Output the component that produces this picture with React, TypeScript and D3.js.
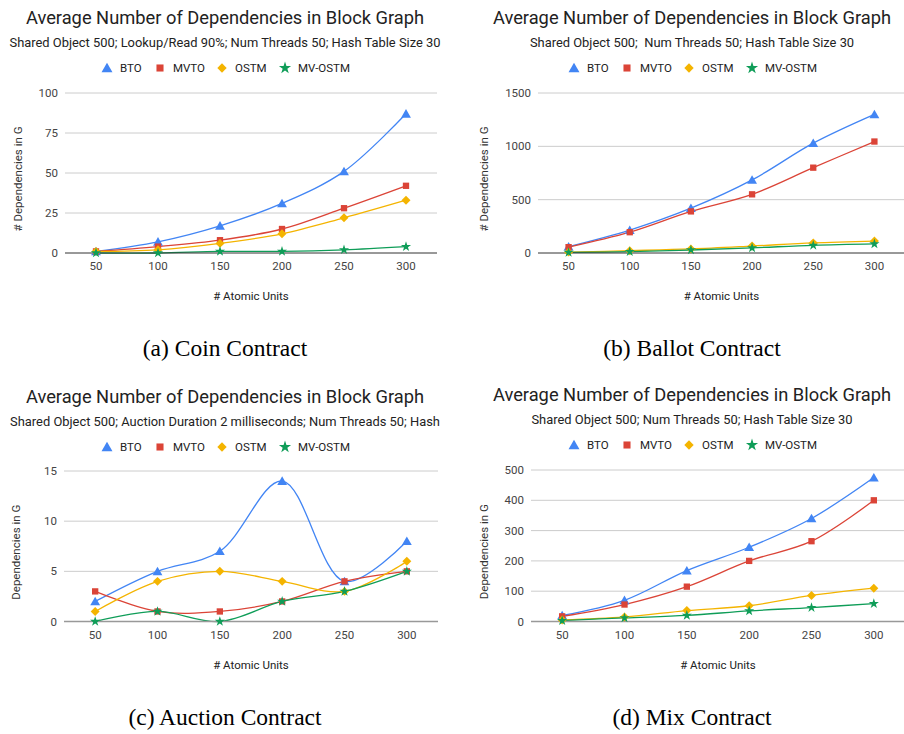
import React from 'react';
import * as d3 from 'd3';

// x categories (atomic units)
const units = [50, 100, 150, 200, 250, 300];
const seriesNames = ['BTO', 'MVTO', 'OSTM', 'MV-OSTM'];
const seriesColors = ['#4285F4', '#DB4437', '#F4B400', '#0F9D58'];

// (a) coin contract
const coinBto = [1, 7, 17, 31, 51, 87];
const coinMvto = [1, 4, 8, 15, 28, 42];
const coinOstm = [1, 2, 6, 12, 22, 33];
const coinMvOstm = [0, 0, 1, 1, 2, 4];
const coinTicks = [0, 25, 50, 75, 100];

// (b) ballot contract
const ballotBto = [60, 215, 420, 685, 1030, 1300];
const ballotMvto = [55, 195, 390, 550, 800, 1045];
const ballotOstm = [8, 22, 38, 65, 95, 112];
const ballotMvOstm = [5, 12, 28, 48, 72, 85];
const ballotTicks = [0, 500, 1000, 1500];

// (c) auction contract
const auctionBto = [2, 5, 7, 14, 4, 8];
const auctionMvto = [3, 1, 1, 2, 4, 5];
const auctionOstm = [1, 4, 5, 4, 3, 6];
const auctionMvOstm = [0, 1, 0, 2, 3, 5];
const auctionTicks = [0, 5, 10, 15];

// (d) mix contract
const mixBto = [20, 70, 168, 245, 340, 475];
const mixMvto = [17, 56, 115, 200, 265, 400];
const mixOstm = [5, 15, 36, 52, 86, 110];
const mixMvOstm = [3, 12, 20, 35, 46, 59];
const mixTicks = [0, 100, 200, 300, 400, 500];

const chartTitle = 'Average Number of Dependencies in Block Graph';

const FONT = 'Roboto, Arial, sans-serif';

interface PanelProps {
  series: number[][];
  ticks: number[];
  subtitle: string;
  yLabel: string;
  caption: string;
  cx: number; // horizontal centre of the titles
  x0: number;
  x1: number;
  top: number; // row offset
  plotTop: number;
  plotBottom: number;
  yLabelX: number;
  axisColor: string;
  axisWidth: number;
}

const markerPath = (i: number, size: number) => {
  const types = [d3.symbolTriangle, d3.symbolSquare, d3.symbolSquare, d3.symbolStar];
  return d3.symbol().type(types[i]).size(size)() || '';
};

const Marker: React.FC<{ i: number; x: number; y: number; legend?: boolean }> = ({ i, x, y, legend }) => {
  const sizes = legend ? [52, 50, 44, 46] : [42, 40, 40, 32];
  const rot = i === 2 ? ' rotate(45)' : '';
  const dy = i === 0 ? 1 : 0;
  return (
    <path
      d={markerPath(i, sizes[i])}
      transform={`translate(${x},${y + dy})${rot}`}
      fill={seriesColors[i]}
    />
  );
};

const legendOffsets = [-118, -65, -3, 60];

const Panel: React.FC<PanelProps> = (p) => {
  const t = p.top;
  const x = d3.scalePoint<number>().domain(units).range([p.x0, p.x1]).padding(0.5);
  const yMax = p.ticks[p.ticks.length - 1];
  const y = d3.scaleLinear().domain([0, yMax]).range([t + p.plotBottom, t + p.plotTop]);
  const line = d3
    .line<number>()
    .x((_, i) => x(units[i]) as number)
    .y((d) => y(d))
    .curve(d3.curveCatmullRom.alpha(0.5));
  const midY = (y(0) + y(yMax)) / 2;

  return (
    <g fontFamily={FONT}>
      <text x={p.cx} y={t + 17} textAnchor="middle" dominantBaseline="central" fontSize={18.3} fill="#222">
        {chartTitle}
      </text>
      <text
        x={p.cx}
        y={t + 42.5}
        textAnchor="middle"
        dominantBaseline="central"
        fontSize={12.9}
        fill="#222"
        style={{ whiteSpace: 'pre' }}
      >
        {p.subtitle}
      </text>
      {seriesNames.map((name, i) => (
        <g key={name}>
          <Marker i={i} x={p.cx + legendOffsets[i]} y={t + 68} legend />
          <text
            x={p.cx + legendOffsets[i] + 13}
            y={t + 68}
            dominantBaseline="central"
            fontSize={11.5}
            fill="#222"
          >
            {name}
          </text>
        </g>
      ))}
      {p.ticks.map((v) => (
        <g key={v}>
          {v !== 0 && <line x1={p.x0} x2={p.x1} y1={y(v)} y2={y(v)} stroke="#ccc" strokeWidth={1} />}
          <text x={p.x0 - 7} y={y(v)} textAnchor="end" dominantBaseline="central" fontSize={11.5} fill="#444">
            {v}
          </text>
        </g>
      ))}
      {units.map((u) => (
        <text key={u} x={x(u)} y={t + p.plotBottom + 13} textAnchor="middle" dominantBaseline="central" fontSize={11.5} fill="#444">
          {u}
        </text>
      ))}
      <text x={(p.x0 + p.x1) / 2} y={t + p.plotBottom + 43} textAnchor="middle" dominantBaseline="central" fontSize={11.5} fill="#222">
        # Atomic Units
      </text>
      <text
        transform={`translate(${p.yLabelX},${midY + 6}) rotate(-90)`}
        textAnchor="middle"
        dominantBaseline="central"
        fontSize={11.5}
        fill="#333"
      >
        {p.yLabel}
      </text>
      {p.series.map((s, i) => (
        <path key={i} d={line(s) || ''} fill="none" stroke={seriesColors[i]} strokeWidth={1.3} />
      ))}
      <line x1={p.x0} x2={p.x1} y1={y(0)} y2={y(0)} stroke={p.axisColor} strokeWidth={p.axisWidth} />
      {p.series.map((s, i) =>
        s.map((v, j) => <Marker key={`${i}-${j}`} i={i} x={x(units[j]) as number} y={y(v)} />)
      )}
      <text
        x={p.cx}
        y={t + p.plotBottom + 95}
        textAnchor="middle"
        dominantBaseline="central"
        fontFamily="'Liberation Serif', 'Times New Roman', serif"
        fontSize={23.5}
        fill="#000"
      >
        {p.caption}
      </text>
    </g>
  );
};

export default function App() {
  return (
    <svg width={904} height={734} style={{ position: 'absolute', left: 0, top: 0, background: '#fff' }}>
      <rect width={904} height={734} fill="#fff" />
      <Panel
        series={[coinBto, coinMvto, coinOstm, coinMvOstm]}
        ticks={coinTicks}
        subtitle="Shared Object 500; Lookup/Read 90%; Num Threads 50; Hash Table Size 30"
        yLabel="# Dependencies in G"
        caption="(a) Coin Contract"
        cx={225}
        x0={65}
        x1={437}
        top={0}
        plotTop={93}
        plotBottom={253}
        yLabelX={18}
        axisColor="#333"
        axisWidth={1}
      />
      <Panel
        series={[ballotBto, ballotMvto, ballotOstm, ballotMvOstm]}
        ticks={ballotTicks}
        subtitle="Shared Object 500;  Num Threads 50; Hash Table Size 30"
        yLabel="# Dependencies in G"
        caption="(b) Ballot Contract"
        cx={692}
        x0={538}
        x1={905}
        top={0}
        plotTop={93}
        plotBottom={253}
        yLabelX={484}
        axisColor="#333"
        axisWidth={1}
      />
      <Panel
        series={[auctionBto, auctionMvto, auctionOstm, auctionMvOstm]}
        ticks={auctionTicks}
        subtitle="Shared Object 500; Auction Duration 2 milliseconds; Num Threads 50; Hash"
        yLabel="Dependencies in G"
        caption="(c) Auction Contract"
        cx={225}
        x0={64}
        x1={438}
        top={379}
        plotTop={92}
        plotBottom={242.5}
        yLabelX={16}
        axisColor="#999"
        axisWidth={1.6}
      />
      <Panel
        series={[mixBto, mixMvto, mixOstm, mixMvOstm]}
        ticks={mixTicks}
        subtitle="Shared Object 500; Num Threads 50; Hash Table Size 30"
        yLabel="Dependencies in G"
        caption="(d) Mix Contract"
        cx={692}
        x0={531}
        x1={905}
        top={377}
        plotTop={93}
        plotBottom={244.5}
        yLabelX={484}
        axisColor="#999"
        axisWidth={1.6}
      />
    </svg>
  );
}
